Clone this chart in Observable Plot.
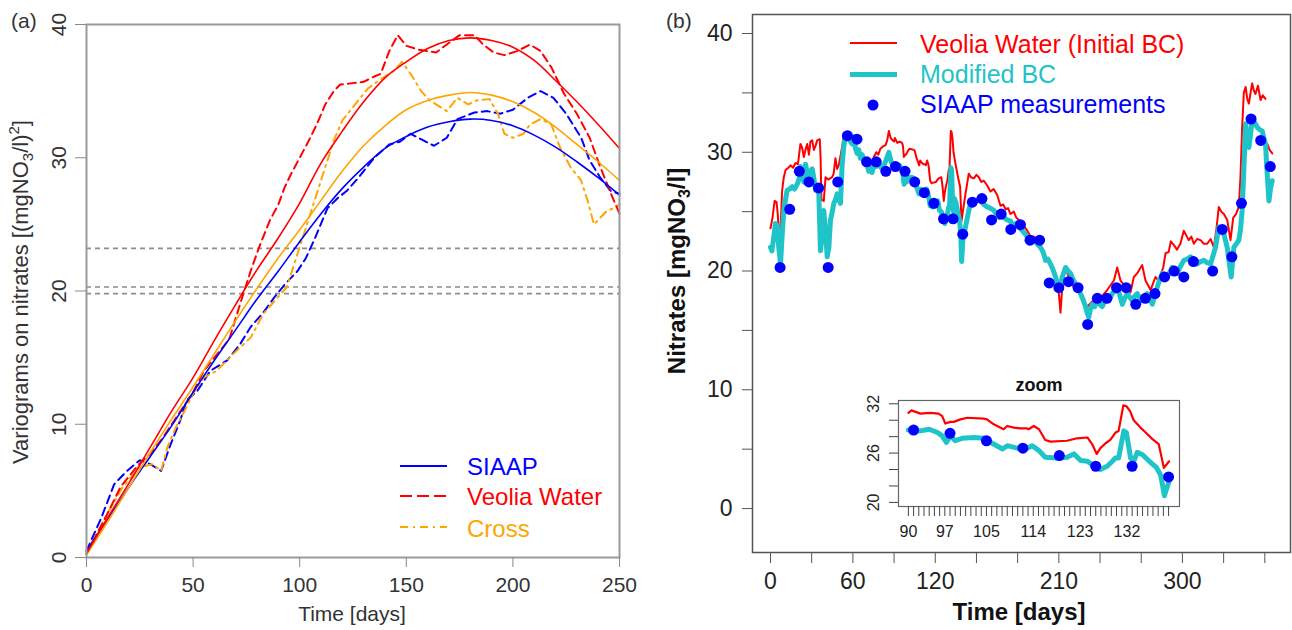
<!DOCTYPE html>
<html><head><meta charset="utf-8">
<script src="https://cdn.jsdelivr.net/npm/d3@7"></script>
<script src="https://cdn.jsdelivr.net/npm/@observablehq/plot@0.6"></script>
<style>
html,body{margin:0;padding:0;background:#fff;}
#wrap{position:relative;width:1292px;height:630px;overflow:hidden;background:#fff;font-family:"Liberation Sans",Arial,Helvetica,sans-serif;}
</style></head><body><div id="wrap"></div>
<script>
// ---------- Panel (a): variograms ----------
const aXTicks = [0, 50, 100, 150, 200, 250];
const aYTicks = [0, 10, 20, 30, 40];
const aRefLevels = [23.2, 20.3, 19.8];
const aSeriesNames = ["SIAAP", "Veolia Water", "Cross"];
const aFitDays = [0,10,20,30,40,50,60,70,80,90,100,110,120,130,140,150,160,170,180,190,200,210,220,230,240,250];
const aFitSIAAP  = [0.5,2.9,5.3,7.6,9.9,12.4,14.8,17.1,19.4,21.5,23.7,25.8,27.7,29.3,30.7,31.6,32.3,32.7,32.9,32.8,32.4,31.7,30.8,29.7,28.5,27.2];
const aFitVeolia = [0.3,3.0,5.6,8.3,11.0,13.5,16.3,19.0,21.6,24.0,26.6,29.6,32.0,34.2,36.0,37.2,38.2,38.8,39.0,38.8,38.3,37.3,35.8,34.2,32.5,30.7];
const aFitCross  = [0.2,2.7,5.3,7.9,10.4,12.8,15.3,17.8,20.2,22.5,24.6,26.8,29.0,30.9,32.4,33.6,34.3,34.7,34.9,34.7,34.2,33.4,32.3,31.0,29.7,28.3];
const aExpSIAAP = [[0,0.5],[7,3.0],[13,5.5],[19,6.5],[25,7.3],[30,7.0],[35,6.5],[39,8.3],[44,10.3],[47,11.8],[52,12.5],[58,14.0],[66,14.8],[72,16.0],[77,17.3],[83,18.4],[88,19.5],[93,20.5],[99,21.5],[103,22.5],[107,23.9],[113,26.2],[118,27.0],[122,27.5],[127,28.4],[135,30.0],[142,31.0],[147,31.2],[152,31.8],[158,31.3],[163,30.9],[169,31.5],[174,32.9],[182,33.4],[188,33.5],[194,33.3],[200,33.6],[207,34.5],[213,35.0],[219,34.5],[225,33.3],[232,31.5],[236,29.8],[241,28.5],[246,27.5],[250,27.3]];
const aExpVeolia = [[0,0.3],[8,2.7],[16,5.3],[24,6.9],[30,7.8],[35,8.8],[40,10.0],[45,11.2],[50,12.4],[55,14.0],[61,15.2],[67,16.4],[72,19.0],[77,21.5],[81,23.3],[86,25.3],[90,26.5],[93,27.8],[96,28.8],[100,30.0],[104,31.2],[108,32.5],[112,34.0],[116,35.0],[119,35.5],[125,35.6],[130,35.7],[135,36.1],[138,36.3],[142,38.0],[146,39.2],[150,38.4],[156,38.1],[164,37.9],[169,38.5],[175,39.2],[182,39.2],[186,38.5],[191,37.9],[196,37.7],[202,38.0],[208,38.5],[213,38.0],[218,36.8],[224,34.8],[230,33.3],[236,31.5],[241,29.3],[246,27.3],[250,25.8]];
const aExpCross = [[0,0.3],[8,2.8],[17,5.3],[25,6.8],[31,7.0],[35,6.5],[38,8.3],[42,9.8],[46,11.0],[50,12.3],[55,13.5],[61,14.0],[69,15.3],[77,16.5],[83,18.3],[89,19.4],[94,20.3],[99,22.8],[102,24.3],[105,25.8],[109,27.8],[113,29.8],[116,31.3],[120,32.8],[126,34.0],[132,35.2],[138,35.9],[144,36.5],[148,37.2],[152,36.3],[157,35.0],[161,34.3],[166,33.8],[169,33.5],[174,34.5],[179,34.0],[183,34.3],[189,34.4],[193,33.3],[196,31.8],[200,31.5],[205,31.8],[208,32.5],[213,32.9],[218,32.5],[222,30.8],[227,29.3],[232,28.3],[235,26.8],[238,25.0],[241,25.5],[244,26.0],[247,26.2],[250,26.5]];

// ---------- Panel (b): nitrate time series ----------
const bXTicks = [0,30,60,90,120,150,180,210,240,270,300,330,360];
const bXLabels = [0, 60, 120, 210, 300];
const bYTicks = [0,5,10,15,20,25,30,35,40];
const bYLabels = [0, 10, 20, 30, 40];
const bSeriesNames = ["Veolia Water (Initial BC)", "Modified BC", "SIAAP measurements"];
const veoliaSim = [[0,23.6],[1.5,24.5],[3,25.9],[4.4,25.8],[5.3,24.8],[6.3,22.8],[7.3,23.5],[8.5,26.8],[9.7,27.9],[11,28.5],[13,28.7],[14.6,28.9],[16.5,28.7],[18.2,29.1],[20,29.0],[21.8,30.7],[23,30.4],[24.3,29.6],[25.5,30.2],[26.7,30.7],[28,29.8],[29.1,30.9],[30.4,31.0],[31.6,30.2],[33,30.6],[34,31.0],[35.9,31.1],[36.5,29.5],[37.1,26.0],[38.8,25.9],[40.1,27.9],[42,27.7],[44.9,27.9],[46,28.2],[47.3,29.5],[48.5,28.6],[49.7,28.9],[51,29.7],[52.2,30.5],[53.4,31.4],[55,31.6],[57,31.7],[58.2,30.9],[59.5,30.7],[60.7,31.3],[61.9,30.3],[63.1,29.9],[64.3,30.2],[65.5,29.5],[66.8,29.8],[68,29.3],[69.2,29.0],[70.4,28.9],[71.6,28.5],[72.8,28.7],[74,29.0],[75.3,29.6],[77,30.0],[78.5,29.8],[80,30.3],[82,30.5],[83.8,30.6],[85,31.0],[86.2,31.8],[87.5,31.2],[89,31.0],
[90,30.9],[90.6,31.2],[92.3,30.8],[94.2,30.9],[95.8,30.8],[96.5,30.5],[97.1,29.6],[98.1,29.8],[98.7,29.8],[100,30.1],[101.3,30.3],[104.5,30.2],[105.1,30.1],[106.4,29.5],[108.3,28.9],[109,29.3],[110.3,29.1],[111.5,29.0],[112.8,29.0],[113.1,28.9],[114.1,29.3],[115.1,28.9],[116.3,27.6],[117.3,27.4],[120.5,27.5],[122.4,27.8],[124.4,27.9],[125.3,27.1],[126.2,25.9],[126.9,26.6],[127.9,27.2],[128.8,27.6],[129.8,28.5],[130.4,28.7],[131.3,31.8],[131.9,31.7],[132.6,31.1],[133.3,30.0],[134.6,29.1],[135.6,28.5],[136.9,27.7],[138.1,27.1],[139.1,24.2],[140.1,25.0],
[142,26.5],[144.4,28.2],[146,27.9],[148.1,27.8],[150,28.1],[151.7,27.9],[153.5,27.5],[155.4,27.6],[157.8,27.2],[160.2,26.7],[162.5,26.9],[165.1,26.4],[167.5,25.5],[169.5,25.6],[171.2,25.2],[173,25.3],[174.8,24.8],[177.2,25.0],[179,24.5],[180.9,24.3],[182.1,24.0],[184.5,23.8],[187,23.4],[189.4,22.9],[191.8,22.9],[194.2,22.6],[196.6,21.9],[199,21.6],[201.5,21.0],[204,20.6],[206.3,20.1],[208,19.5],[210,18.1],[211.2,16.5],[212.4,18.5],[213.6,19.8],[215.5,20.0],[217.3,19.5],[219,19.2],[220.9,18.6],[223,18.4],[225.8,18.1],[228,17.6],[230.7,17.0],[234,17.4],[237.9,17.8],[241.6,17.9],[245.2,18.4],[247.6,18.8],[250.1,19.2],[252.5,20.3],[254.9,19.2],[257,18.9],[259.8,18.6],[262.2,18.2],[264.6,19.5],[267,19.8],[270.7,20.5],[273.1,19.2],[276.8,18.4],[280.4,19.5],[282.5,19.2],[284.5,19.8],[286,20.3],[287.7,21.5],[290,21.6],[291.5,22.5],[293.7,22.2],[296,21.8],[298.5,22.3],[301,23.4],[302.8,23.0],[304.6,22.6],[306.5,22.9],[308.3,22.3],[310.7,22.7],[313.2,22.6],[315.6,22.3],[318,22.3],[320.5,22.7],[322.9,22.0],[324.7,23.5],[326.5,25.4],[328.3,25.0],[330.2,24.8],[332.6,24.3],[335,22.6],[337,24.5],[339,24.8],[341.1,25.4],[342.3,28.0],[343.5,32.1],[344.7,35.0],[346,35.5],[347.2,34.5],[348.4,34.1],[349.6,35.0],[350.8,35.8],[352,35.2],[353.2,34.9],[355,35.6],[356.9,34.4],[358.5,34.8],[360.5,34.5],[361.2,null],[361.8,30.7],[363.5,30.2],[365.4,29.9]];
const modifiedSim = [[0,22.0],[1,21.7],[2,22.5],[3.6,24.0],[5,23.8],[6,22.0],[7.3,20.6],[8.5,23.0],[9.7,25.1],[12.1,26.8],[14,26.9],[15.8,27.1],[17.5,26.9],[19.4,27.3],[21,27.8],[21.8,28.8],[23,28.0],[24.3,27.5],[25.5,29.0],[26.7,28.3],[27.9,27.9],[29,28.4],[30.4,28.6],[31.6,27.8],[32.8,26.8],[34,27.0],[35.2,26.5],[36.4,21.7],[37.6,23.0],[38.8,25.1],[40,23.5],[41.3,21.2],[42.5,22.0],[43.7,24.3],[45,25.0],[46.1,25.7],[47.3,26.0],[48.6,26.5],[49.8,26.0],[51,25.7],[52.2,29.0],[53.4,30.5],[54.6,31.3],[57,31.6],[58.2,30.9],[59.5,30.7],[60.7,31.3],[61.9,30.3],[63.1,29.9],[64.3,30.2],[65.5,29.5],[66.8,29.8],[68,29.3],[69.2,29.0],[70.4,28.9],[71.6,28.4],[72.8,28.6],[74,28.3],[75.3,28.9],[77,28.8],[78.9,29.0],[80.5,28.7],[82.6,28.9],[84,29.3],[86.2,30.0],[87.4,29.4],[88.6,29.0],
[90,28.8],[92.3,28.7],[94,28.9],[95.6,28.5],[96.5,28.1],[97.3,27.3],[98.1,28.1],[99,27.5],[100.3,27.8],[102.6,27.9],[104.5,27.8],[106.1,27.2],[108.1,26.5],[109,26.9],[110.9,26.6],[112.2,26.4],[113.8,26.9],[115.1,26.3],[116.3,25.5],[118.3,25.4],[120.5,25.5],[121.8,25.9],[123.1,25.1],[124.4,25.0],[125.7,24.4],[126.9,24.0],[128.2,24.4],[129.2,25.0],[129.8,25.4],[130.4,25.4],[131.4,28.7],[131.9,28.5],[132.7,25.4],[133.3,25.0],[134,26.1],[135,25.8],[136.3,25.0],[137.6,24.3],[138.5,23.3],[139.2,20.8],[140.2,22.8],
[142,23.7],[144.4,25.1],[146,25.8],[148.1,25.7],[150.5,26.0],[153,25.9],[155.5,25.6],[157.8,25.4],[160,25.3],[162.7,25.1],[164.5,24.8],[166.4,24.5],[169,24.6],[172.4,24.3],[174.8,24.2],[176.1,23.8],[178.5,24.0],[180.9,23.7],[183.5,23.4],[187,22.9],[189.4,22.8],[191.8,22.6],[194.2,22.3],[196.6,22.0],[198.5,21.6],[200.3,20.9],[202,21.0],[203.9,20.6],[205.8,20.1],[207.6,19.5],[210,18.4],[212.5,19.5],[214.9,20.3],[216.7,20.0],[218.5,19.8],[220.3,19.3],[222.1,18.9],[224,18.5],[225.8,18.1],[227.6,17.6],[229.4,17.0],[230.6,16.5],[231.8,16.1],[233,16.8],[234.3,17.2],[236,17.0],[237.9,17.5],[239.7,17.2],[241.6,17.0],[243.4,17.5],[245.2,17.8],[247,17.6],[248.9,18.1],[250.7,18.3],[252.5,18.6],[254.3,18.0],[256.2,17.2],[258,17.7],[259.8,18.1],[261.6,17.8],[263.4,17.5],[265.3,17.9],[267.1,18.1],[268.9,17.7],[270.7,17.5],[272.5,17.9],[274.4,18.1],[276.2,17.8],[278,17.2],[279.8,17.9],[281.6,18.6],[283.5,19.3],[285.3,19.8],[287.1,19.6],[288.9,19.5],[290.8,19.9],[292.6,20.3],[294.4,20.0],[296.2,19.8],[298.6,20.4],[301,20.9],[303.5,21.0],[305.9,21.2],[308.3,20.8],[310.8,20.6],[313.2,20.8],[315.6,20.9],[318,20.7],[320.5,20.6],[322.3,21.3],[324.1,22.0],[326.5,23.7],[328.3,23.4],[330.2,23.1],[332.6,22.0],[334.3,20.5],[335.5,19.5],[336.5,20.8],[337.5,22.0],[339.3,22.3],[341.1,22.6],[342.3,23.5],[343.5,25.1],[344.7,28.5],[346,32.4],[347.2,31.5],[348.4,30.4],[349.6,31.5],[350.8,32.7],[352.6,32.5],[354.5,32.1],[356.3,31.9],[358.1,31.8],[359.3,31.2],[360.5,30.7],[361.4,28.8],[363,25.9],[364.2,27.0],[365.4,27.6]];
const siaapObs = [[7,20.3],[14,25.2],[21,28.4],[28,27.5],[35,27.0],[42,20.3],[49,27.5],[56,31.4],[63,31.1],[70,29.2],[77,29.2],[84,28.4],[91,28.8],[98,28.4],[105,27.5],[112,26.6],[119,25.7],[126,24.4],[133,24.4],[140,23.1],[147,25.8],[154,26.1],[161,24.3],[168,24.8],[175,23.5],[182,23.9],[189,22.6],[196,22.6],[203,19.0],[210,18.6],[217,19.1],[224,18.6],[231,15.5],[238,17.7],[245,17.7],[252,18.6],[259,18.6],[266,17.2],[273,17.7],[280,18.1],[287,19.5],[294,20.0],[301,19.5],[308,20.8],[322,20.0],[329,23.5],[336,21.2],[343,25.7],[350,32.8],[357,31.0],[364,28.8]];

// ---------- Inset ----------
const insetRange = [90, 140.3];
const insetXTicks = d3.range(90, 141);
const insetXLabels = [90, 97, 105, 114, 123, 132];
const insetYTicks = [20, 22, 24, 26, 28, 30, 32];
const insetYLabels = [20, 26, 32];

// ---------- build ----------
const FONT = '"Liberation Sans", Arial, Helvetica, sans-serif';
const BLUE = "#0000ff", RED = "#ff0000", ORANGE = "#ffa500", CYAN = "#1fc4c8";
const wrap = document.getElementById("wrap");
function place(el, left, top) { el.style.position = "absolute"; el.style.left = left + "px"; el.style.top = top + "px"; wrap.appendChild(el); }
const rows = pairs => pairs.map(([day, v]) => ({day, v}));
const fitRows = vals => aFitDays.map((d, i) => ({day: d, v: vals[i]}));

const plotA = Plot.plot({
  width: 640, height: 630,
  marginLeft: 86, marginRight: 21, marginTop: 24, marginBottom: 73,
  x: {domain: [0, 250]}, y: {domain: [0, 40]},
  style: {fontFamily: FONT, fontSize: "21px", color: "#333", background: "transparent", overflow: "visible"},
  marks: [
    Plot.ruleY(aRefLevels, {stroke: "#8c8c8c", strokeWidth: 1.6, strokeDasharray: "5,4"}),
    Plot.line(rows(aExpSIAAP), {x: "day", y: "v", stroke: BLUE, strokeWidth: 2, strokeDasharray: "8,5"}),
    Plot.line(rows(aExpCross), {x: "day", y: "v", stroke: ORANGE, strokeWidth: 2, strokeDasharray: "2,5,8,5"}),
    Plot.line(rows(aExpVeolia), {x: "day", y: "v", stroke: RED, strokeWidth: 2, strokeDasharray: "8,5"}),
    Plot.line(fitRows(aFitSIAAP), {x: "day", y: "v", stroke: BLUE, strokeWidth: 1.6, curve: "catmull-rom"}),
    Plot.line(fitRows(aFitCross), {x: "day", y: "v", stroke: ORANGE, strokeWidth: 1.6, curve: "catmull-rom"}),
    Plot.line(fitRows(aFitVeolia), {x: "day", y: "v", stroke: RED, strokeWidth: 1.6, curve: "catmull-rom"}),
    Plot.frame({stroke: "#9a9a9a", strokeWidth: 2}),
    Plot.axisX({ticks: aXTicks, tickSize: 10, tickPadding: 10, stroke: "#8a8a8a", fill: "#333", label: null}),
    Plot.axisY({ticks: aYTicks, tickSize: 11, tickFormat: () => "", stroke: "#8a8a8a", label: null}),
    Plot.text(aYTicks, {y: d => d, frameAnchor: "left", dx: -27, rotate: -90, text: d => String(d), textAnchor: "middle", lineAnchor: "middle", fill: "#333", fontSize: 21})
  ]
});
place(plotA, 0, 0);

const plotB = Plot.plot({
  width: 632, height: 630,
  marginLeft: 92, marginRight: 2, marginTop: 14, marginBottom: 78,
  x: {domain: [-13.1, 378.7]}, y: {domain: [-3.7, 41.6]},
  style: {fontFamily: FONT, fontSize: "23px", color: "#222", background: "transparent", overflow: "visible"},
  marks: [
    Plot.line(rows(veoliaSim), {x: "day", y: "v", stroke: RED, strokeWidth: 2}),
    Plot.line(rows(modifiedSim), {x: "day", y: "v", stroke: CYAN, strokeWidth: 5, strokeLinejoin: "round"}),
    Plot.dot(rows(siaapObs), {x: "day", y: "v", r: 5.5, fill: BLUE}),
    Plot.frame({stroke: "#555", strokeWidth: 1.5}),
    Plot.axisX({ticks: bXTicks, tickFormat: d => bXLabels.includes(d) ? String(d) : "", tickSize: 11, tickPadding: 9, stroke: "#555", fill: "#222", label: null}),
    Plot.axisY({ticks: bYTicks, tickFormat: d => bYLabels.includes(d) ? String(d) : "", tickSize: 10, tickPadding: 10, stroke: "#555", fill: "#222", label: null})
  ]
});
place(plotB, 660, 0);

const inR = d => d.day >= insetRange[0] - 0.1 && d.day <= insetRange[1];
const plotC = Plot.plot({
  width: 330, height: 180,
  marginLeft: 40, marginRight: 9, marginTop: 30, marginBottom: 44,
  x: {domain: [88.1, 142.1]}, y: {domain: [19.5, 32.4]},
  style: {fontFamily: FONT, fontSize: "16px", color: "#222", background: "transparent", overflow: "visible"},
  marks: [
    Plot.line(rows(veoliaSim).filter(inR), {x: "day", y: "v", stroke: RED, strokeWidth: 2.2}),
    Plot.line(rows(modifiedSim).filter(inR), {x: "day", y: "v", stroke: CYAN, strokeWidth: 5, strokeLinejoin: "round"}),
    Plot.dot(rows(siaapObs).filter(inR), {x: "day", y: "v", r: 5.5, fill: BLUE}),
    Plot.frame({stroke: "#666", strokeWidth: 1.2}),
    Plot.axisX({ticks: insetXTicks, tickFormat: d => insetXLabels.includes(d) ? String(d) : "", tickSize: 10, tickPadding: 9, stroke: "#444", fill: "#222", label: null}),
    Plot.axisY({ticks: insetYTicks, tickFormat: () => "", tickSize: 9, stroke: "#444", label: null}),
    Plot.text(insetYLabels, {y: d => d, frameAnchor: "left", dx: -25, rotate: -90, text: d => String(d), textAnchor: "middle", lineAnchor: "middle", fontSize: 16, fill: "#222"}),
    Plot.text(["zoom"], {frameAnchor: "top", dy: -15, text: d => d, fontWeight: "bold", fontSize: 18, lineAnchor: "middle", fill: "#111"})
  ]
});
place(plotC, 858, 370);

// ---------- overlay: titles, panel tags and legends ----------
const ov = document.createElementNS("http://www.w3.org/2000/svg", "svg");
ov.setAttribute("width", 1292); ov.setAttribute("height", 630);
ov.style.cssText = "position:absolute;left:0;top:0;pointer-events:none";
ov.setAttribute("font-family", FONT);
ov.innerHTML = `
<text x="11" y="28" font-size="21" fill="#333">(a)</text>
<text x="666" y="28" font-size="21" fill="#333">(b)</text>
<text x="352" y="621" font-size="21" fill="#333" text-anchor="middle">Time [days]</text>
<text transform="translate(28,292) rotate(-90)" font-size="22" fill="#333" text-anchor="middle">Variograms on nitrates [(mgNO<tspan font-size="15" dy="5">3</tspan><tspan dy="-5">/l)</tspan><tspan font-size="15" dy="-9">2</tspan><tspan dy="9">]</tspan></text>
<line x1="400" x2="447" y1="466" y2="466" stroke="${BLUE}" stroke-width="2"/>
<line x1="400" x2="447" y1="496" y2="496" stroke="${RED}" stroke-width="2" stroke-dasharray="12,5"/>
<line x1="400" x2="447" y1="527" y2="527" stroke="${ORANGE}" stroke-width="2" stroke-dasharray="8,5,2,5"/>
<text x="467" y="475" font-size="24" fill="${BLUE}">${aSeriesNames[0]}</text>
<text x="467" y="505" font-size="24" fill="${RED}">${aSeriesNames[1]}</text>
<text x="467" y="536.5" font-size="24" fill="${ORANGE}">${aSeriesNames[2]}</text>
<text x="1019" y="620" font-size="24" font-weight="bold" fill="#111" text-anchor="middle">Time [days]</text>
<text transform="translate(685,271) rotate(-90)" font-size="24" font-weight="bold" fill="#111" text-anchor="middle">Nitrates [mgNO<tspan font-size="16" dy="5">3</tspan><tspan dy="-5">/l]</tspan></text>
<line x1="850" x2="897" y1="43" y2="43" stroke="${RED}" stroke-width="2"/>
<line x1="850" x2="897" y1="74.5" y2="74.5" stroke="${CYAN}" stroke-width="5"/>
<circle cx="873" cy="105" r="5.5" fill="${BLUE}"/>
<text x="920" y="53" font-size="25" fill="${RED}">${bSeriesNames[0]}</text>
<text x="920" y="83" font-size="25" fill="${CYAN}">${bSeriesNames[1]}</text>
<text x="920" y="113" font-size="25" fill="${BLUE}">${bSeriesNames[2]}</text>
`;
wrap.appendChild(ov);
</script></body></html>
